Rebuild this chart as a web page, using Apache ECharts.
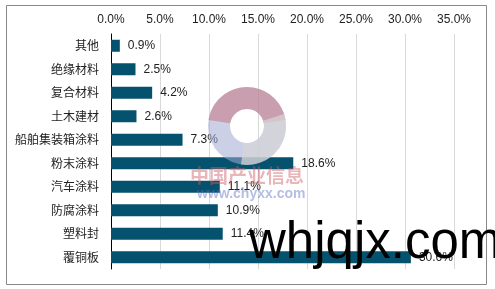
<!DOCTYPE html>
<html><head><meta charset="utf-8">
<script src="https://cdn.jsdelivr.net/npm/echarts@6/dist/echarts.min.js"></script>
<style>html,body{margin:0;padding:0;background:#fff}#c{width:495px;height:289px}</style>
</head><body><div id="c"></div>
<script>
const categories = ['其他','绝缘材料','复合材料','土木建材','船舶集装箱涂料','粉末涂料','汽车涂料','防腐涂料','塑料封','覆铜板'];
const values = [0.9, 2.5, 4.2, 2.6, 7.3, 18.6, 11.1, 10.9, 11.4, 30.6];
const tickMax = 35;
const tickStep = 5;

const chart = echarts.init(document.getElementById('c'));
chart.setOption({
  animation: false,
  textStyle: {fontFamily: 'Liberation Sans, Noto Sans CJK SC, sans-serif'},
  grid: {left: 111, right: 41, top: 34, bottom: 20},
  xAxis: {
    type: 'value', position: 'top', min: 0, max: tickMax, interval: tickStep,
    axisLine: {show: false}, axisTick: {show: false},
    axisLabel: {formatter: v => v.toFixed(1) + '%', color: '#222', fontSize: 12, margin: 8,
      fontFamily: 'Liberation Sans, sans-serif'},
    splitLine: {lineStyle: {color: '#d9d9d9', width: 1}}
  },
  yAxis: {
    type: 'category', data: categories, inverse: true,
    axisLine: {lineStyle: {color: '#000', width: 1}}, axisTick: {show: false},
    axisLabel: {color: '#222', fontSize: 12, margin: 12, fontFamily: 'Noto Sans CJK SC, sans-serif'}
  },
  series: [{
    type: 'bar', data: values, barWidth: 12,
    itemStyle: {color: '#04526d'},
    label: {show: true, position: 'right', distance: 8, formatter: p => p.value.toFixed(1) + '%',
      color: '#222', fontSize: 12, fontFamily: 'Liberation Sans, sans-serif'}
  }],
  graphic: [
    {type: 'rect', shape: {x: 6.5, y: 5.5, width: 480, height: 279}, style: {fill: 'none', stroke: '#888', lineWidth: 1}, silent: true},
    {type: 'ring', shape: {cx: 247, cy: 126, r: 39, r0: 17}, style: {fill: 'rgba(160,170,210,0.55)'}, silent: true, z: 10},
    {type: 'arc', shape: {cx: 247, cy: 126, r: 28, startAngle: Math.PI*1.05, endAngle: Math.PI*1.95}, style: {stroke: 'rgba(200,110,120,0.5)', lineWidth: 22, fill: 'none'}, silent: true, z: 11},
    {type: 'arc', shape: {cx: 247, cy: 126, r: 28, startAngle: -Math.PI*0.1, endAngle: Math.PI*0.55}, style: {stroke: 'rgba(215,215,215,0.7)', lineWidth: 22, fill: 'none'}, silent: true, z: 11},
    {type: 'text', left: 190, top: 166, style: {text: '中国产业信息', fontSize: 19, fontWeight: 'bold', fill: 'rgba(205,90,100,0.45)', fontFamily: 'Noto Sans CJK SC, sans-serif'}, silent: true, z: 12},
    {type: 'text', left: 197, top: 187, style: {text: 'www.chyxx.com', fontSize: 14, fontWeight: 'bold', fill: 'rgba(90,110,190,0.45)', fontFamily: 'Liberation Sans, sans-serif'}, silent: true, z: 12},
    {type: 'text', left: 249, top: 218, style: {text: 'whjqjx.com', fontSize: 51, fill: '#000', fontFamily: 'Liberation Sans, sans-serif'}, silent: true, z: 20}
  ]
});
</script></body></html>
